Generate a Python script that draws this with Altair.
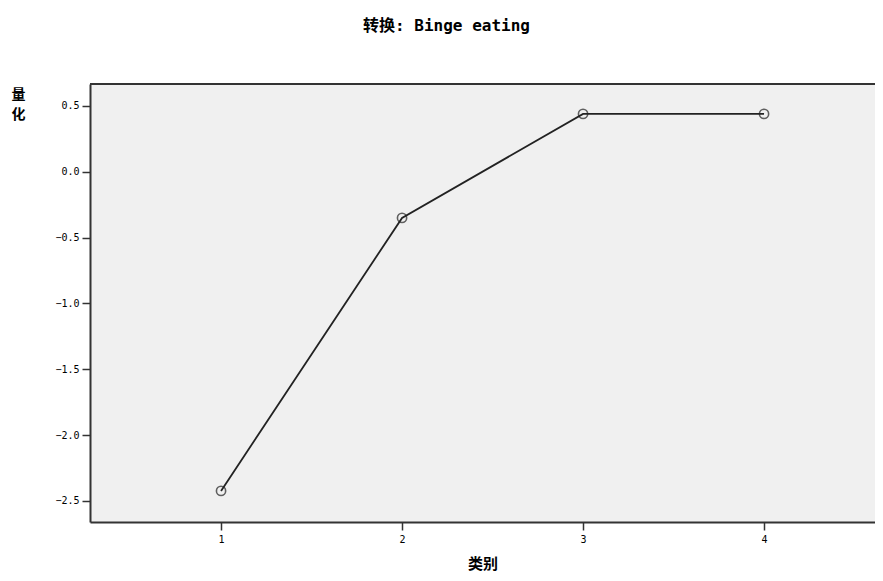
import altair as alt
import pandas as pd

categories = [1, 2, 3, 4]
quantifications = [-2.424, -0.35, 0.44, 0.44]
y_ticks = [0.5, 0.0, -0.5, -1.0, -1.5, -2.0, -2.5]

df = pd.DataFrame({"cat": categories, "q": quantifications})

W, H = 785, 438
x_scale = alt.Scale(domain=[0.276, 0.276 + W / 181.0], nice=False, zero=False)
y_scale = alt.Scale(domain=[-2.66, 0.667], nice=False, zero=False)

mono = "DejaVu Sans Mono"
cjk = "DejaVu Sans Mono, Noto Sans CJK SC"

base = alt.Chart(df)

line = base.mark_line(color="#222222", strokeWidth=1.8).encode(
    x=alt.X("cat:Q", scale=x_scale,
            axis=alt.Axis(values=categories, format="d", grid=False, title="类别",
                          labelFont=mono, labelFontSize=10, labelColor="#000",
                          tickSize=8, tickColor="#333", tickWidth=1.5,
                          domainColor="#333", domainWidth=2, labelPadding=4,
                          titleFont="Noto Sans CJK SC", titleFontSize=15,
                          titleFontWeight="bold", titleColor="#000", titlePadding=12)),
    y=alt.Y("q:Q", scale=y_scale,
            axis=alt.Axis(values=y_ticks, format=".1f", grid=False, title=["量", "化"],
                          labelFont=mono, labelFontSize=10, labelColor="#000",
                          tickSize=8, tickColor="#333", tickWidth=1.5,
                          domainColor="#333", domainWidth=2, labelPadding=3,
                          titleFont="Noto Sans CJK SC", titleFontSize=14,
                          titleFontWeight="bold", titleColor="#000", titleAngle=0,
                          titleAlign="center", titleBaseline="top",
                          titleX=-72, titleY=3, titleLineHeight=20)),
)

pts = base.mark_point(shape="circle", filled=False, color="#222222", size=85,
                      strokeWidth=1.6).encode(
    x=alt.X("cat:Q", scale=x_scale),
    y=alt.Y("q:Q", scale=y_scale),
)

top = alt.Chart(df).mark_rule(color="#333333", strokeWidth=2).encode(
    x=alt.value(0), x2=alt.value(W), y=alt.value(0)
)

chart = alt.layer(line, pts, top).properties(
    width=W, height=H,
    background="white",
    title=alt.TitleParams("转换: Binge eating", font=cjk, fontSize=16,
                          fontWeight="bold", color="#000", anchor="middle",
                          dx=-36, offset=49),
    autosize=alt.AutoSizeParams(type="none"),
    padding={"left": 82, "top": 76, "right": 0, "bottom": 51},
).configure_view(fill="#f0f0f0", stroke=None)

chart.save("out.html", embed_options={"renderer": "svg", "actions": False})
